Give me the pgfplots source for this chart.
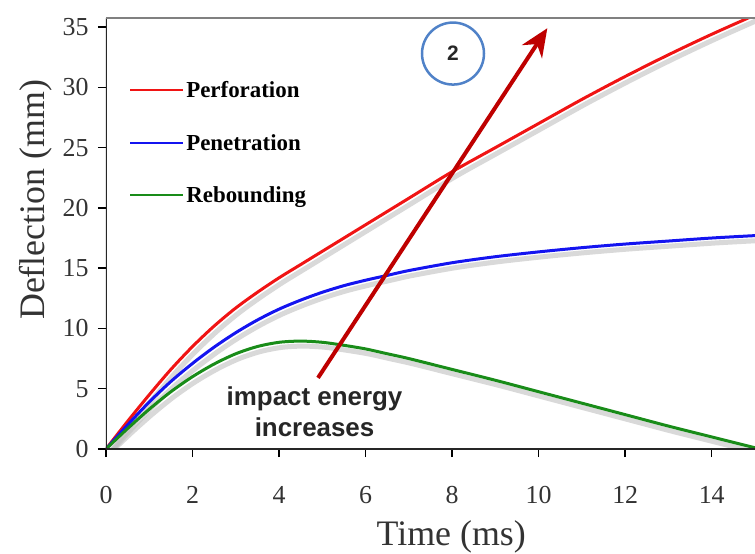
\documentclass[border=0pt]{standalone}
\usepackage{fontspec}
\setmainfont{Liberation Serif}
\newfontfamily\annfont{Liberation Sans}
\usepackage{pgfplots}
\usepackage{pgfplotstable}
\pgfplotsset{compat=1.18}
\usetikzlibrary{arrows.meta}
\definecolor{cred}{RGB}{240,20,20}
\definecolor{cblue}{RGB}{20,20,240}
\definecolor{cgreen}{RGB}{25,140,25}
\definecolor{carrow}{RGB}{190,0,0}
\definecolor{ccirc}{RGB}{80,130,200}
\pgfplotstableread{
x y
0 0
0.5 2.3
1 4.5
1.5 6.6
2 8.5
2.5 10.2
3 11.7
3.5 13.0
4 14.2
4.5 15.3
5 16.4
5.5 17.5
6 18.6
7 20.8
8 23.0
9 25.0
10 27.0
11 29.0
12 30.9
13 32.7
14 34.4
15 36.0
}\perf
\pgfplotstableread{
x y
0 0
0.5 2.0
1 3.9
1.5 5.6
2 7.1
2.5 8.45
3 9.65
3.5 10.7
4 11.6
4.5 12.35
5 13.0
5.5 13.55
6 14.0
6.5 14.4
7 14.8
8 15.45
9 15.95
10 16.35
11 16.7
12 17.0
13 17.25
14 17.5
15 17.7
}\pene
\pgfplotstableread{
x y
0 0
0.5 1.7
1 3.3
1.5 4.75
2 6.0
2.5 7.05
3 7.9
3.5 8.5
4 8.85
4.5 8.95
5 8.85
5.5 8.6
6 8.3
6.5 7.9
7 7.5
8 6.6
9 5.7
10 4.75
11 3.8
12 2.85
13 1.9
14 1.0
15 0.1
}\rebo
\begin{document}
\begin{tikzpicture}
\begin{axis}[
  scale only axis, width=649bp, height=431bp,
  xmin=0, xmax=15, ymin=0, ymax=35.75,
  axis line style={draw=none},
  xtick={0,2,...,14}, ytick={0,5,...,35},
  xtick pos=lower, ytick pos=left,
  tick align=outside, major tick length=8bp,
  tick style={black, line width=1.5bp},
  /pgf/number format/assume math mode=true,
  ticklabel style={font=\fontsize{26}{28}\selectfont, text=black!80},
  xticklabel style={yshift=-26bp},
  yticklabel style={xshift=-6bp},
  xlabel={Time (ms)}, ylabel={Deflection (mm)},
  label style={font=\fontsize{36}{40}\selectfont, text=black!80},
  xlabel style={at={(axis description cs:0.532,-0.204)}, anchor=center},
  ylabel style={at={(axis description cs:-0.109,0.578)}, anchor=center},
  legend style={draw=none, fill=none, at={(axis description cs:0.031,0.862)}, anchor=north west,
    font=\bfseries\fontsize{23}{25}\selectfont, row sep=31bp},
  legend cell align=left,
  legend image code/.code={\draw[#1, line width=2bp] (0bp,0bp) -- (53bp,0bp);},
]
\addplot[gray!50, line width=5bp, opacity=0.6, xshift=3bp, yshift=-5bp, forget plot, smooth] table {\perf};
\addplot[gray!50, line width=5bp, opacity=0.6, xshift=3bp, yshift=-5bp, forget plot, smooth] table {\pene};
\addplot[gray!50, line width=5bp, opacity=0.6, xshift=3bp, yshift=-5bp, forget plot, smooth] table {\rebo};
\addplot[cred, line width=3bp, smooth] table {\perf};
\addlegendentry{Perforation}
\addplot[cblue, line width=3bp, smooth] table {\pene};
\addlegendentry{Penetration}
\addplot[cgreen, line width=3bp, smooth] table {\rebo};
\addlegendentry{Rebounding}
\draw[black!85, line width=2bp] (rel axis cs:0,1) -- (rel axis cs:0,0) -- (rel axis cs:1,0);
\draw[gray, line width=3bp] (rel axis cs:0,1) -- (rel axis cs:1,1);
\draw[carrow, line width=4bp, -{Stealth[length=28bp,width=24bp]}] (axis cs:4.9,5.9) -- (axis cs:10.2,34.9);
\node[circle, draw=ccirc, line width=2.5bp, minimum size=62bp, inner sep=0pt,
  font=\annfont\bfseries\fontsize{21}{24}\selectfont, text=black!85] at (axis cs:8.02,32.8) {2};
\node[font=\annfont\bfseries\fontsize{26}{31}\selectfont, align=center, text=black!85, fill=white, inner sep=1bp]
  at (axis cs:4.82,3.1) {impact energy\\increases};
\end{axis}
\pgfresetboundingbox
\path ([shift={(-106bp,-105bp)}]current axis.south west) rectangle ([shift={(0bp,18bp)}]current axis.north east);
\end{tikzpicture}
\end{document}
